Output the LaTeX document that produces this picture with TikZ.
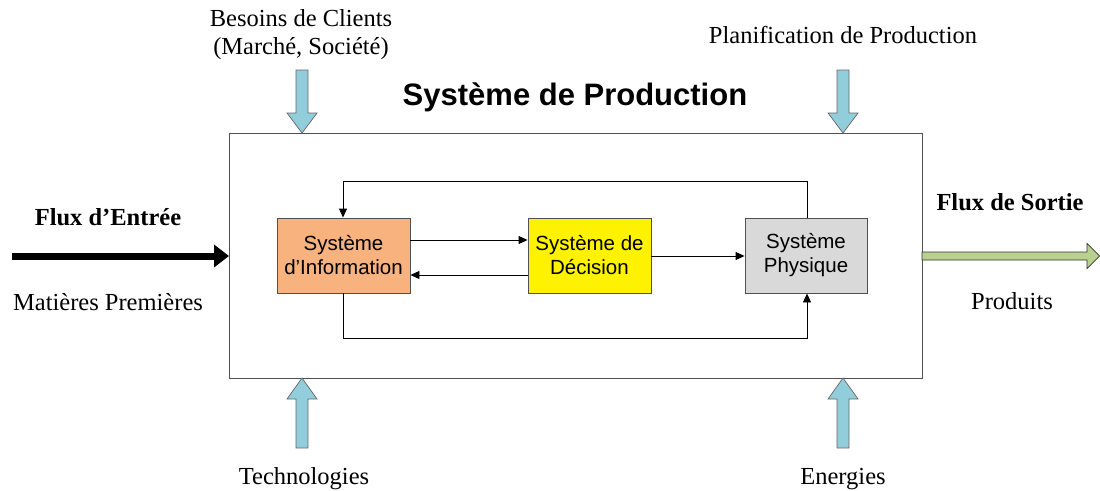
\documentclass[tikz,border=0pt]{standalone}
\usepackage{fontspec}
\setmainfont{Liberation Serif}
\newfontfamily\arialfont{Liberation Sans}
\usetikzlibrary{arrows.meta}
\definecolor{infoorange}{HTML}{F7B27E}
\definecolor{physgray}{HTML}{D9D9D9}
\definecolor{blockblue}{HTML}{92CDDC}
\definecolor{outgreen}{HTML}{B9D08E}
\definecolor{framegray}{HTML}{505050}
\tikzset{
  sysbox/.style={draw=framegray, line width=0.9pt, minimum width=133pt, minimum height=75pt, inner sep=0pt, align=center, font=\arialfont\fontsize{20.5}{24}\selectfont},
  flow/.style={draw=black, line width=0.9pt, -{Triangle[length=9pt,width=8pt]}},
  lbl/.style={font=\fontsize{24.5}{28}\selectfont, align=center, inner sep=0pt},
  blbl/.style={font=\bfseries\fontsize{24.5}{28}\selectfont, inner sep=0pt},
  blockarrow/.style={fill=blockblue, draw=gray!80!black, line width=0.7pt, line join=miter}
}
\begin{document}
\begin{tikzpicture}[x=1pt,y=-1pt]
\useasboundingbox (0,0) rectangle (1100,490);
% main frame
\draw[framegray, line width=1pt] (229,133) rectangle (922,378);
\node[font=\arialfont\bfseries\fontsize{31}{35}\selectfont, inner sep=0pt] (title) at (575,97) {Système de Production};
% inner boxes
\node[sysbox, fill=infoorange] (info) at (343.5,255.5) {Système\\d’Information};
\node[sysbox, fill=yellow, minimum width=123pt] (dec) at (589.5,255.5) {Système de\\Décision};
\node[sysbox, fill=physgray, minimum width=122pt] (phys) at (806,255.5) {Système\\Physique};
% connectors
\draw[flow] (info.east |- 0,240) -- (dec.west |- 0,240);
\draw[flow] (dec.west |- 0,275) -- (info.east |- 0,275);
\draw[flow] (dec.east |- 0,256) -- (phys.west |- 0,256);
\coordinate (tr) at (807,181);
\coordinate (tl) at (343,181);
\coordinate (bl) at (343,338);
\coordinate (br) at (807,338);
\draw[flow] (phys.north -| tr) -- (tr) -- (tl) -- (info.north -| tl);
\draw[flow] (info.south -| bl) -- (bl) -- (br) -- (phys.south -| br);
% labels
\node[lbl] (besoins) at (301,35) {Besoins de Clients\\(Marché, Société)};
\node[lbl] (planif) at (843,35) {Planification de Production};
\node[blbl] (fin) at (108,217) {Flux d’Entrée};
\node[lbl] (mat) at (108,302) {Matières Premières};
\node[blbl] (fout) at (1010,202) {Flux de Sortie};
\node[lbl] (prod) at (1012,301) {Produits};
\node[lbl] (tech) at (304,479) {Technologies};
\node[lbl] (ener) at (843,479) {Energies};
% block arrows down
\foreach \cx in {302,843}{
  \draw[blockarrow] (\cx-6,70) -- (\cx+6,70) -- (\cx+6,113) -- (\cx+15,113) -- (\cx,133) -- (\cx-15,113) -- (\cx-6,113) -- cycle;
}
% block arrows up
\foreach \cx in {302,843}{
  \draw[blockarrow] (\cx-6,448) -- (\cx+6,448) -- (\cx+6,399) -- (\cx+15,399) -- (\cx,378) -- (\cx-15,399) -- (\cx-6,399) -- cycle;
}
% input arrow
\coordinate (inl) at (12,256);
\draw[line width=7pt, -{Triangle[length=15pt,width=22pt]}] (inl) -- (229,256);
% output arrow
\draw[fill=outgreen, draw=black!80, line width=0.7pt] (922,252) -- (1087,252) -- (1087,243.5) -- (1099.5,256) -- (1087,268.5) -- (1087,260) -- (922,260) -- cycle;
\end{tikzpicture}
\end{document}
